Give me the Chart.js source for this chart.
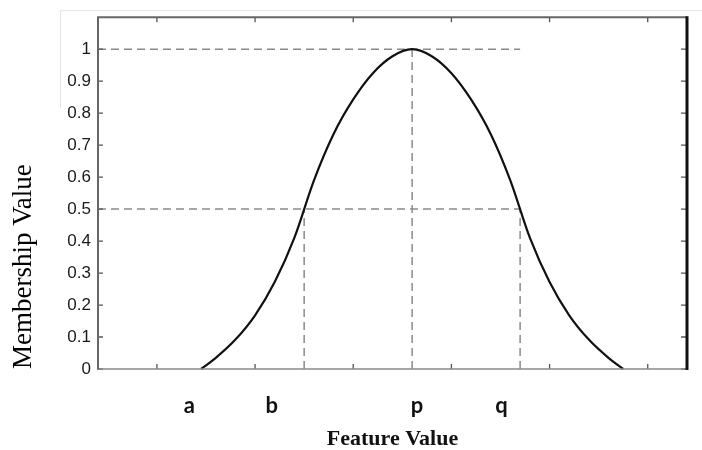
<!DOCTYPE html>
<html>
<head>
<meta charset="utf-8">
<script src="https://cdn.jsdelivr.net/npm/chart.js@4.4.1/dist/chart.umd.min.js"></script>
<style>
  html, body { margin: 0; padding: 0; background: #fff; }
  #wrap { width: 702px; height: 450px; }
</style>
</head>
<body>
<div id="wrap"><canvas id="chart" width="702" height="450"></canvas></div>
<script>
// Membership curve
const curveX = [0.45, 0.6, 0.8, 1.0, 1.2, 1.4, 1.6, 1.8, 2.0, 2.2, 2.4, 2.6,
                2.8, 3.0, 3.2, 3.4, 3.6, 3.8, 4.0, 4.2, 4.4, 4.6, 4.75];
const curveY = [0, 0.035, 0.092, 0.168, 0.272, 0.41, 0.59, 0.735, 0.843, 0.925, 0.978, 1.0,
                0.978, 0.925, 0.843, 0.735, 0.59, 0.41, 0.272, 0.168, 0.092, 0.035, 0];

// Dashed guide segments (y = 1, y = 0.5, verticals at b, p, q)
const guideX = [[-0.6, 3.7], [-0.6, 3.7], [1.5, 1.5], [2.6, 2.6], [3.7, 3.7]];
const guideY = [[1, 1], [0.5, 0.5], [0, 0.5], [0, 1], [0, 0.5]];

// Axis ticks and letter labels
const xTicks = [0, 1, 2, 3, 4, 5];
const yTicks = [0, 0.1, 0.2, 0.3, 0.4, 0.5, 0.6, 0.7, 0.8, 0.9, 1];
const letterPos = [0.33, 1.17, 2.65, 3.51];
const letterNames = ['a', 'b', 'p', 'q'];

const toPts = (xs, ys) => xs.map((v, i) => ({ x: v, y: ys[i] }));

const datasets = [{
  data: toPts(curveX, curveY),
  borderColor: '#111',
  borderWidth: 2.2,
  pointRadius: 0,
  cubicInterpolationMode: 'monotone',
  clip: false
}].concat(guideX.map((xs, i) => ({
  data: toPts(xs, guideY[i]),
  borderColor: '#8a8a8a',
  borderWidth: 1.5,
  borderDash: [8, 5],
  pointRadius: 0,
  tension: 0
})));

// MATLAB-like box with inward ticks
const frame = {
  id: 'frame',
  beforeDraw(chart) {
    const { ctx, chartArea: a, width } = chart;
    ctx.save();
    ctx.strokeStyle = '#e3e3e3';
    ctx.lineWidth = 1;
    ctx.beginPath();
    ctx.moveTo(a.left - 37.5, a.top + 91);
    ctx.lineTo(a.left - 37.5, a.top - 6.5);
    ctx.lineTo(width, a.top - 6.5);
    ctx.stroke();
    ctx.restore();
  },
  afterDatasetsDraw(chart) {
    const { ctx, chartArea: a, scales: { x, y } } = chart;
    ctx.save();
    ctx.strokeStyle = '#555';
    ctx.lineWidth = 1.3;
    ctx.beginPath();
    xTicks.forEach(v => {
      const px = x.getPixelForValue(v);
      ctx.moveTo(px, a.bottom); ctx.lineTo(px, a.bottom - 5);
      ctx.moveTo(px, a.top); ctx.lineTo(px, a.top + 5);
    });
    yTicks.forEach(v => {
      const py = y.getPixelForValue(v);
      ctx.moveTo(a.left, py); ctx.lineTo(a.left + 5, py);
      ctx.moveTo(a.right, py); ctx.lineTo(a.right - 6, py);
    });
    ctx.stroke();

    const line = (x1, y1, x2, y2, c, w) => {
      ctx.strokeStyle = c; ctx.lineWidth = w;
      ctx.beginPath(); ctx.moveTo(x1, y1); ctx.lineTo(x2, y2); ctx.stroke();
    };
    line(a.left, a.bottom, a.right, a.bottom, '#8a8a8a', 1.5);
    line(a.left - 1, a.top, a.right, a.top, '#666', 2);
    line(a.left, a.top, a.left, a.bottom + 0.75, '#666', 2);
    line(a.right, a.top - 1, a.right, a.bottom + 1, '#111', 3);
    ctx.restore();
  }
};

new Chart(document.getElementById('chart').getContext('2d'), {
  type: 'line',
  data: { datasets },
  options: {
    responsive: false,
    animation: false,
    layout: { padding: { top: 13, right: 15, left: 0, bottom: 0 } },
    plugins: { legend: { display: false }, tooltip: { enabled: false } },
    scales: {
      x: {
        type: 'linear',
        min: -0.6,
        max: 5.4,
        grid: { display: false, drawTicks: false },
        border: { display: false },
        afterBuildTicks: s => { s.ticks = letterPos.map(v => ({ value: v })); },
        afterFit: s => { s.height = 81; },
        ticks: {
          autoSkip: false,
          maxRotation: 0,
          padding: 24,
          color: '#111',
          font: { family: 'Lato', weight: 'bold', size: 22 },
          callback: (v, i) => letterNames[i]
        },
        title: {
          display: true,
          text: 'Feature Value',
          color: '#111',
          padding: { top: 0, bottom: 0 },
          font: { family: 'Liberation Serif', weight: 'bold', size: 22, lineHeight: 1 }
        }
      },
      y: {
        min: 0,
        max: 1.1,
        grid: { display: false, drawTicks: false },
        border: { display: false },
        afterBuildTicks: s => { s.ticks = yTicks.map(v => ({ value: v })); },
        afterFit: s => { s.width = 98; },
        ticks: {
          padding: 7,
          color: '#1a1a1a',
          font: { family: 'Liberation Sans', size: 17 },
          callback: v => String(Math.round(v * 10) / 10)
        },
        title: {
          display: true,
          text: 'Membership Value',
          align: 'start',
          color: '#000',
          padding: { top: 8, bottom: 0 },
          font: { family: 'Liberation Serif', size: 27 }
        }
      }
    }
  },
  plugins: [frame]
});
</script>
</body>
</html>
